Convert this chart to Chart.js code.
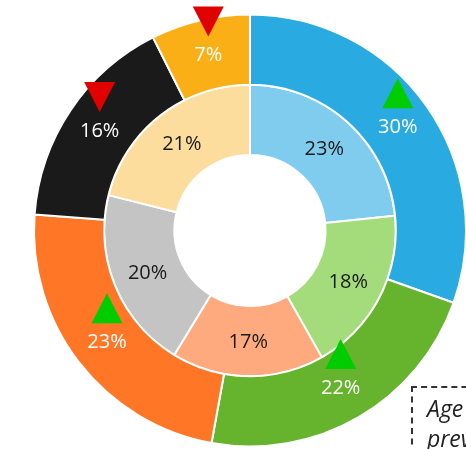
<!DOCTYPE html>
<html>
<head>
<meta charset="utf-8">
<script src="https://cdn.jsdelivr.net/npm/chart.js@4"></script>
<style>
  html, body { margin: 0; padding: 0; background: #fff; overflow: hidden; }
  #wrap { position: relative; width: 466px; height: 449px; overflow: hidden; }
  #note {
    position: absolute; left: 411px; top: 386px; width: 220px;
    border: 2px dashed #333; padding: 5px 0 0 14px;
    font-family: "Open Sans", sans-serif; font-style: italic;
    font-size: 23px; line-height: 30px; color: #222;
  }
</style>
</head>
<body>
<div id="wrap">
  <canvas id="myChart1" width="466" height="449"></canvas>
  <div id="note">Age group<br>prevalence</div>
</div>
<script>
// outer ring (starts at 12 o'clock, clockwise)
var outerValues = [30.4, 22.4, 23.3, 16.4, 7.4];
var outerColors = ['#29abe2', '#66b32e', '#ff7627', '#1a1a1a', '#fbaf17'];
var outerTrend = ['up', 'up', 'up', 'down', 'down'];

// inner ring
var innerValues = [23.4, 18.4, 16.9, 20.2, 21.1];
var innerColors = ['#80ccef', '#a4db7b', '#ffaa7e', '#c4c4c4', '#fddd9d'];

var labelsPlugin = {
	id: 'ringLabels',
	afterDatasetsDraw: function(chart) {
		var ctx = chart.ctx;
		ctx.save();
		ctx.textAlign = 'center';
		ctx.textBaseline = 'middle';
		ctx.font = '20px "Open Sans", sans-serif';
		chart.data.datasets.forEach(function(ds, di) {
			var meta = chart.getDatasetMeta(di);
			meta.data.forEach(function(arc, i) {
				var p = arc.getProps(['x', 'y', 'startAngle', 'endAngle', 'innerRadius', 'outerRadius'], true);
				var mid = (p.startAngle + p.endAngle) / 2;
				var r = (p.innerRadius + p.outerRadius) / 2;
				var px = p.x + Math.cos(mid) * r;
				var py = p.y + Math.sin(mid) * r;
				ctx.fillStyle = di == 0 ? '#ffffff' : '#1a1a1a';
				ctx.fillText(Math.round(ds.data[i]) + '%', px, py + 1);
				if (di == 0) {
					var ty = py - 33;
					ctx.beginPath();
					if (outerTrend[i] == 'up') {
						ctx.fillStyle = '#00cc00';
						ctx.moveTo(px, ty - 15);
						ctx.lineTo(px + 15.5, ty + 15);
						ctx.lineTo(px - 15.5, ty + 15);
					} else {
						ctx.fillStyle = '#e00000';
						ctx.moveTo(px - 15.5, ty - 15);
						ctx.lineTo(px + 15.5, ty - 15);
						ctx.lineTo(px, ty + 15);
					}
					ctx.closePath();
					ctx.fill();
				}
			});
		});
		ctx.restore();
	}
};

let myChart1 = document.getElementById('myChart1').getContext('2d');
let ringChart = new Chart(myChart1, {
	type: 'doughnut',
	data: {
		labels: ['a', 'b', 'c', 'd', 'e'],
		datasets: [
			{
				data: outerValues,
				backgroundColor: outerColors,
				borderColor: '#fff',
				borderWidth: 2
			},
			{
				data: innerValues,
				backgroundColor: innerColors,
				borderColor: '#fff',
				borderWidth: 2
			}
		]
	},
	options: {
		responsive: false,
		animation: false,
		radius: 216,
		cutout: '35%',
		layout: { padding: { left: 34, right: 0, top: 14, bottom: 2 } },
		plugins: {
			legend: { display: false },
			tooltip: { enabled: false }
		}
	},
	plugins: [labelsPlugin]
});
</script>
</body>
</html>
